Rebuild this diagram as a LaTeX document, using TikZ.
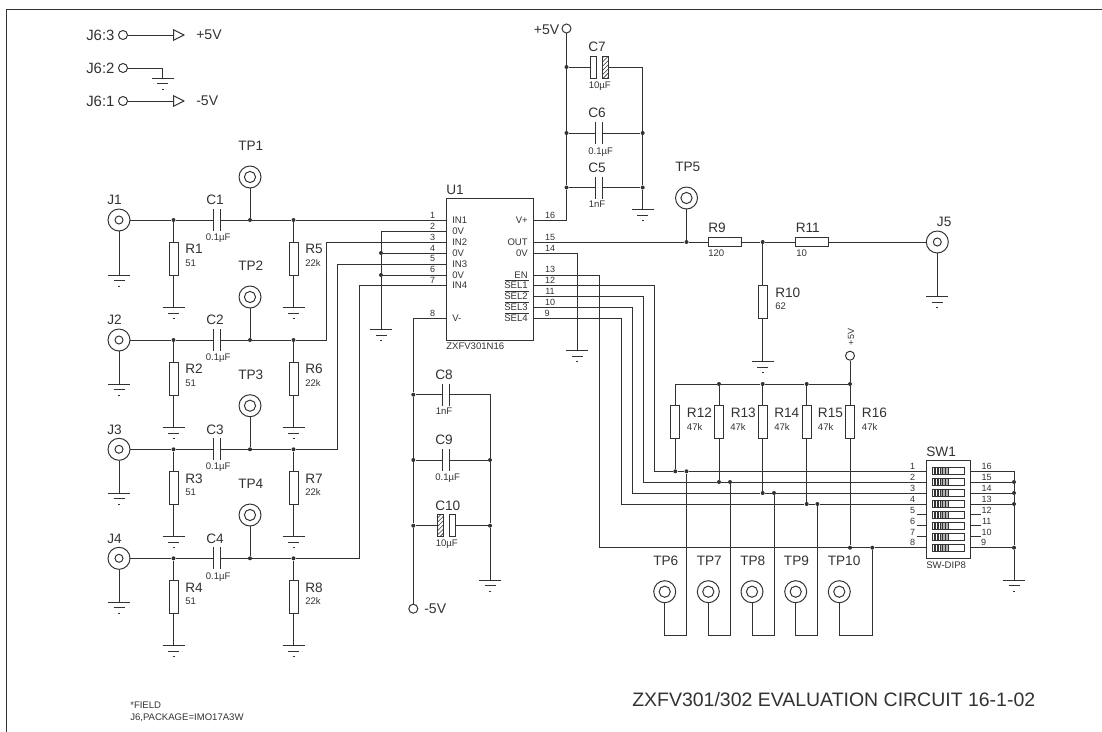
\documentclass[tikz,border=0pt]{standalone}
\usepackage{fontspec}
\setmainfont{Liberation Sans}
\usepackage{tikz}
\usetikzlibrary{arrows.meta,patterns}

\begin{document}
\begin{tikzpicture}[x=0.25mm,y=-0.25mm]

	\definecolor{wirecol}{RGB}{50,50,50}

	\tikzstyle{edge} = [draw=wirecol,line width=0.7pt,-]
	\tikzset{lab/.style = {anchor=west,inner sep=0,text depth=0pt,text=wirecol,font=\fontsize{9.7}{10}\selectfont}}
	\tikzset{val/.style = {anchor=west,inner sep=0,text depth=0pt,text=wirecol,font=\fontsize{6.8}{7}\selectfont}}
	\tikzset{pin/.style = {inner sep=0,text depth=0pt,text=wirecol,font=\fontsize{6.4}{7}\selectfont}}
	\tikzset{supply/.style = {inner sep=0,text depth=0pt,text=wirecol,font=\fontsize{10}{11}\selectfont}}
	\tikzset{jname/.style = {anchor=west,inner sep=0,text depth=0pt,text=wirecol,font=\fontsize{10.6}{11}\selectfont}}
	\tikzset{jack/.style = {shape=circle,draw=wirecol,line width=0.7pt,inner sep=0,minimum size=5.5mm,path picture={\draw[wirecol,line width=0.7pt] (path picture bounding box.center) circle (1mm);}}}
	\tikzset{probe/.style = {shape=circle,draw=wirecol,line width=0.7pt,inner sep=0,minimum size=5.5mm,path picture={\draw[wirecol,line width=0.7pt] (path picture bounding box.center) circle (1.4mm);}}}
	\tikzset{port/.style = {shape=circle,draw=wirecol,line width=0.7pt,inner sep=0,minimum size=2.25mm}}
	\tikzset{junc/.style = {shape=circle,fill=wirecol,inner sep=0,minimum size=1mm}}
	\tikzset{resv/.style = {shape=rectangle,draw=wirecol,line width=0.7pt,inner sep=0,minimum width=2.25mm,minimum height=8.25mm}}
	\tikzset{resh/.style = {shape=rectangle,draw=wirecol,line width=0.7pt,inner sep=0,minimum width=8.25mm,minimum height=2.25mm}}
	\tikzset{gnd/.pic = {
		\coordinate (-t) at (0,0);
		\draw[wirecol,line width=0.7pt] (-11,0) -- (11,0);
		\draw[wirecol,line width=0.6pt] (-5.5,5.5) -- (5.5,5.5);
		\draw[wirecol,line width=0.6pt] (-1,11) -- (1,11);
	}}
	\tikzset{capa/.pic = {
		\coordinate (-l) at (-3.6,0);
		\coordinate (-r) at (3.6,0);
		\draw[wirecol,line width=0.7pt] (-3.6,-11) -- (-3.6,11);
		\draw[wirecol,line width=0.7pt] (3.6,-11) -- (3.6,11);
	}}
	\tikzset{polr/.pic = {
		\coordinate (-l) at (-8.7,0);
		\coordinate (-r) at (8.7,0);
		\draw[wirecol,line width=0.7pt] (-8.7,-11) rectangle (-3,11);
		\draw[wirecol,line width=0.7pt,pattern=north east lines,pattern color=wirecol] (3,-11) rectangle (8.7,11);
	}}
	\tikzset{poll/.pic = {
		\coordinate (-l) at (-9,0);
		\coordinate (-r) at (9,0);
		\draw[wirecol,line width=0.7pt,pattern=north east lines,pattern color=wirecol] (-9,-11) rectangle (-3,11);
		\draw[wirecol,line width=0.7pt] (3,-11) rectangle (9,11);
	}}
	\tikzset{dip/.pic = {
		\fill[gray!60] (-8,-3.5) rectangle (0,3.5);
		\draw[wirecol,line width=0.6pt] (-16,-3.5) rectangle (16.2,3.5);
		\draw[wirecol,line width=0.5pt] (-14.5,-3.5) -- (-14.5,3.5) (-13,-3.5) -- (-13,3.5) (-11.5,-3.5) -- (-11.5,3.5) (-10,-3.5) -- (-10,3.5) (-8.5,-3.5) -- (-8.5,3.5) (-6,-3.5) -- (-6,3.5) (-3,-3.5) -- (-3,3.5) (0,-3.5) -- (0,3.5);
	}}

	\useasboundingbox (0,0) rectangle (1102,732);

	\coordinate (fa) at (1102,9);
	\coordinate (fb) at (6.5,9);
	\coordinate (fc) at (6.5,732);
	\draw[edge] (fa) -- (fb) -- (fc);

	\node[jname] (j63l) at (86,35) {J6:3};
	\node[jname] (j62l) at (86,68) {J6:2};
	\node[jname] (j61l) at (86,101) {J6:1};
	\node[port] (j63) at (123,35) {};
	\node[port] (j62) at (123,68) {};
	\node[port] (j61) at (123,101) {};
	\coordinate (f63) at (185,35);
	\coordinate (f61) at (185,101);
	\coordinate (w62) at (162.5,68);
	\pic (g62) at (162.5,78) {gnd};
	\draw[edge,-{Triangle[open,length=8.5pt,width=8.5pt]}] (j63) -- (f63);
	\draw[edge,-{Triangle[open,length=8.5pt,width=8.5pt]}] (j61) -- (f61);
	\draw[edge] (j62) -- (w62) -- (g62-t);
	\node[supply,anchor=west] (s63) at (196,35) {+5V};
	\node[supply,anchor=west] (s61) at (196,101) {-5V};

	\node[jack] (j1) at (119,220) {};
	\node[jack] (j2) at (119,340) {};
	\node[jack] (j3) at (119,449.3) {};
	\node[jack] (j4) at (119,558.3) {};
	\node[lab] (j1l) at (107,200) {J1};
	\node[lab] (j2l) at (107,320) {J2};
	\node[lab] (j3l) at (107,429.5) {J3};
	\node[lab] (j4l) at (107,538.5) {J4};
	\pic (gj1) at (119,275) {gnd};
	\pic (gj2) at (119,384) {gnd};
	\pic (gj3) at (119,493) {gnd};
	\pic (gj4) at (119,602.3) {gnd};
	\draw[edge] (j1) to (gj1-t);
	\draw[edge] (j2) to (gj2-t);
	\draw[edge] (j3) to (gj3-t);
	\draw[edge] (j4) to (gj4-t);

	\node[probe] (tp1) at (250,177) {};
	\node[probe] (tp2) at (250,297) {};
	\node[probe] (tp3) at (250,405.7) {};
	\node[probe] (tp4) at (250,515) {};
	\node[lab] (tp1l) at (238,146) {TP1};
	\node[lab] (tp2l) at (238,266) {TP2};
	\node[lab] (tp3l) at (238,375) {TP3};
	\node[lab] (tp4l) at (238,484) {TP4};

	\pic (c1) at (217,220) {capa};
	\pic (c2) at (217,340) {capa};
	\pic (c3) at (217,449.3) {capa};
	\pic (c4) at (217,558.3) {capa};
	\node[lab] (c1l) at (206,200) {C1};
	\node[lab] (c2l) at (206,320) {C2};
	\node[lab] (c3l) at (206,429.5) {C3};
	\node[lab] (c4l) at (206,538.5) {C4};
	\node[val] (c1v) at (205.5,237.5) {0.1µF};
	\node[val] (c2v) at (205.5,357.5) {0.1µF};
	\node[val] (c3v) at (205.5,466.5) {0.1µF};
	\node[val] (c4v) at (205.5,576) {0.1µF};

	\node[junc] (dl1) at (173.5,220) {};
	\node[junc] (dl2) at (173.5,340) {};
	\node[junc] (dl3) at (173.5,449.3) {};
	\node[junc] (dl4) at (173.5,558.3) {};
	\node[junc] (dm1) at (250,220) {};
	\node[junc] (dm2) at (250,340) {};
	\node[junc] (dm3) at (250,449.3) {};
	\node[junc] (dm4) at (250,558.3) {};
	\node[junc] (dr5) at (293.5,220) {};
	\node[junc] (dr6) at (293.5,340) {};
	\node[junc] (dr7) at (293.5,449.3) {};
	\node[junc] (dr8) at (293.5,558.3) {};

	\node[resv] (r1) at (173.5,258.5) {};
	\node[resv] (r2) at (173.5,378.5) {};
	\node[resv] (r3) at (173.5,487.7) {};
	\node[resv] (r4) at (173.5,596.8) {};
	\node[resv] (r5) at (293.5,258.5) {};
	\node[resv] (r6) at (293.5,378.5) {};
	\node[resv] (r7) at (293.5,487.7) {};
	\node[resv] (r8) at (293.5,596.8) {};
	\node[lab] (r1l) at (185,249) {R1};
	\node[lab] (r2l) at (185,369) {R2};
	\node[lab] (r3l) at (185,478.5) {R3};
	\node[lab] (r4l) at (185,587.5) {R4};
	\node[lab] (r5l) at (305,249) {R5};
	\node[lab] (r6l) at (305,369) {R6};
	\node[lab] (r7l) at (305,478.5) {R7};
	\node[lab] (r8l) at (305,587.5) {R8};
	\node[val] (r1v) at (185,263) {51};
	\node[val] (r2v) at (185,383) {51};
	\node[val] (r3v) at (185,492.5) {51};
	\node[val] (r4v) at (185,601.5) {51};
	\node[val] (r5v) at (305,263) {22k};
	\node[val] (r6v) at (305,383) {22k};
	\node[val] (r7v) at (305,492.5) {22k};
	\node[val] (r8v) at (305,601.5) {22k};
	\pic (g1) at (173.5,307.5) {gnd};
	\pic (g2) at (173.5,427.7) {gnd};
	\pic (g3) at (173.5,536.7) {gnd};
	\pic (g4) at (173.5,645.7) {gnd};
	\pic (g5) at (293.5,307.5) {gnd};
	\pic (g6) at (293.5,427.7) {gnd};
	\pic (g7) at (293.5,536.7) {gnd};
	\pic (g8) at (293.5,645.7) {gnd};

	\draw[edge] (dl1) -- (r1) -- (g1-t);
	\draw[edge] (dl2) -- (r2) -- (g2-t);
	\draw[edge] (dl3) -- (r3) -- (g3-t);
	\draw[edge] (dl4) -- (r4) -- (g4-t);
	\draw[edge] (dr5) -- (r5) -- (g5-t);
	\draw[edge] (dr6) -- (r6) -- (g6-t);
	\draw[edge] (dr7) -- (r7) -- (g7-t);
	\draw[edge] (dr8) -- (r8) -- (g8-t);
	\draw[edge] (tp1) to (dm1);
	\draw[edge] (tp2) to (dm2);
	\draw[edge] (tp3) to (dm3);
	\draw[edge] (tp4) to (dm4);

	\node[shape=rectangle,draw=wirecol,line width=0.7pt,inner sep=0,minimum width=21.75mm,minimum height=35.5mm] (u1) at (490,269) {};
	\node[lab] (u1l) at (446,189.5) {U1};
	\node[val] (u1v) at (446,346.5) {ZXFV301N16};
	\coordinate (u1p1) at (446.5,220);
	\coordinate (u1p2) at (446.5,231);
	\coordinate (u1p3) at (446.5,242);
	\coordinate (u1p4) at (446.5,253);
	\coordinate (u1p5) at (446.5,264);
	\coordinate (u1p6) at (446.5,275);
	\coordinate (u1p7) at (446.5,285.5);
	\coordinate (u1p8) at (446.5,318.5);
	\coordinate (u1p9) at (533.5,318.5);
	\coordinate (u1p10) at (533.5,307.5);
	\coordinate (u1p11) at (533.5,296.5);
	\coordinate (u1p12) at (533.5,285.5);
	\coordinate (u1p13) at (533.5,275);
	\coordinate (u1p14) at (533.5,253);
	\coordinate (u1p15) at (533.5,242);
	\coordinate (u1p16) at (533.5,220);
	\node[val] (in1) at (452,220) {IN1};
	\node[val] (in2) at (452,231) {0V};
	\node[val] (in3) at (452,242) {IN2};
	\node[val] (in4) at (452,253) {0V};
	\node[val] (in5) at (452,264) {IN3};
	\node[val] (in6) at (452,275) {0V};
	\node[val] (in7) at (452,285.5) {IN4};
	\node[val] (in8) at (452,318.5) {V-};
	\node[val,anchor=east] (in9) at (528,318.5) {SEL4};
	\node[val,anchor=east] (in10) at (528,307.5) {SEL3};
	\node[val,anchor=east] (in11) at (528,296.5) {SEL2};
	\node[val,anchor=east] (in12) at (528,285.5) {SEL1};
	\node[val,anchor=east] (in13) at (528,275) {EN};
	\node[val,anchor=east] (in14) at (528,253) {0V};
	\node[val,anchor=east] (in15) at (528,242) {OUT};
	\node[val,anchor=east] (in16) at (528,220) {V+};
	\coordinate (ov9a) at (504.5,313);
	\coordinate (ov9b) at (528.5,313);
	\coordinate (ov10a) at (504.5,302);
	\coordinate (ov10b) at (528.5,302);
	\coordinate (ov11a) at (504.5,291);
	\coordinate (ov11b) at (528.5,291);
	\coordinate (ov12a) at (504.5,280.5);
	\coordinate (ov12b) at (528.5,280.5);
	\draw[edge,line width=0.6pt] (ov9a) -- (ov9b);
	\draw[edge,line width=0.6pt] (ov10a) -- (ov10b);
	\draw[edge,line width=0.6pt] (ov11a) -- (ov11b);
	\draw[edge,line width=0.6pt] (ov12a) -- (ov12b);
	\node[pin] (n1) at (432.5,215) {1};
	\node[pin] (n2) at (432.5,226) {2};
	\node[pin] (n3) at (432.5,237) {3};
	\node[pin] (n4) at (432.5,248) {4};
	\node[pin] (n5) at (432.5,258.5) {5};
	\node[pin] (n6) at (432.5,269.5) {6};
	\node[pin] (n7) at (432.5,280.5) {7};
	\node[pin] (n8) at (432.5,313.5) {8};
	\node[pin] (n9) at (547,313.5) {9};
	\node[pin] (n10) at (550,302.5) {10};
	\node[pin] (n11) at (550,291.5) {11};
	\node[pin] (n12) at (550,280.5) {12};
	\node[pin] (n13) at (550,269.5) {13};
	\node[pin] (n14) at (550,248) {14};
	\node[pin] (n15) at (550,237) {15};
	\node[pin] (n16) at (550,215) {16};

	\coordinate (w2) at (326,242);
	\coordinate (w3) at (337.5,264);
	\coordinate (w4) at (359,285.5);
	\draw[edge] (j1) -- (dl1) -- (c1-l);
	\draw[edge] (j2) -- (dl2) -- (c2-l);
	\draw[edge] (j3) -- (dl3) -- (c3-l);
	\draw[edge] (j4) -- (dl4) -- (c4-l);
	\draw[edge] (c1-r) -- (dm1) -- (dr5) -- (u1p1);
	\draw[edge] (c2-r) -- (dm2) -- (dr6) -| (w2) -- (u1p3);
	\draw[edge] (c3-r) -- (dm3) -- (dr7) -| (w3) -- (u1p5);
	\draw[edge] (c4-r) -- (dm4) -- (dr8) -| (w4) -- (u1p7);

	\coordinate (bus) at (381,231);
	\node[junc] (dp4) at (381,253) {};
	\node[junc] (dp6) at (381,275) {};
	\pic (gu) at (381,329.5) {gnd};
	\draw[edge] (u1p2) -- (bus) -- (dp4) -- (dp6) -- (gu-t);
	\draw[edge] (dp4) to (u1p4);
	\draw[edge] (dp6) to (u1p6);

	\node[port] (pos) at (566.5,28.5) {};
	\node[supply,anchor=east] (posl) at (559.5,30) {+5V};
	\node[junc] (dc7) at (566.5,67) {};
	\node[junc] (dc6) at (566.5,133) {};
	\node[junc] (dc5) at (566.5,187.5) {};
	\node[junc] (de6) at (642.7,133) {};
	\node[junc] (de5) at (642.7,187.5) {};
	\pic (c7) at (599.3,67) {polr};
	\pic (c6) at (599.3,133) {capa};
	\pic (c5) at (599.3,187.5) {capa};
	\node[lab] (c7l) at (588,47) {C7};
	\node[lab] (c6l) at (588,113) {C6};
	\node[lab] (c5l) at (588,168) {C5};
	\node[val] (c7v) at (588.5,85) {10µF};
	\node[val] (c6v) at (588,151) {0.1µF};
	\node[val] (c5v) at (588.5,204.7) {1nF};
	\pic (gc) at (642.7,209.5) {gnd};
	\draw[edge] (u1p16) -| (dc5) -- (dc6) -- (dc7) -- (pos);
	\draw[edge] (dc7) to (c7-l);
	\draw[edge] (dc6) to (c6-l);
	\draw[edge] (dc5) to (c5-l);
	\draw[edge] (c7-r) -| (de6) -- (de5) -- (gc-t);
	\draw[edge] (c6-r) to (de6);
	\draw[edge] (c5-r) to (de5);

	\coordinate (wneg) at (413.3,318.5);
	\node[port] (neg) at (413.3,608.7) {};
	\node[supply,anchor=west] (negl) at (424,608.7) {-5V};
	\node[junc] (dc8) at (413.3,394.7) {};
	\node[junc] (dc9) at (413.3,460) {};
	\node[junc] (dc10) at (413.3,525.7) {};
	\coordinate (te8) at (490,394.7);
	\node[junc] (de9) at (490,460) {};
	\node[junc] (de10) at (490,525.7) {};
	\pic (c8) at (446.3,394.7) {capa};
	\pic (c9) at (446.3,460) {capa};
	\pic (c10) at (446.3,525.7) {poll};
	\node[lab] (c8l) at (435,374.7) {C8};
	\node[lab] (c9l) at (435,440) {C9};
	\node[lab] (c10l) at (435,505.7) {C10};
	\node[val] (c8v) at (435.5,411.7) {1nF};
	\node[val] (c9v) at (435,477.3) {0.1µF};
	\node[val] (c10v) at (435.5,542.7) {10µF};
	\pic (gn) at (490,580) {gnd};
	\draw[edge] (u1p8) -- (wneg) -- (dc8) -- (dc9) -- (dc10) -- (neg);
	\draw[edge] (dc8) to (c8-l);
	\draw[edge] (dc9) to (c9-l);
	\draw[edge] (dc10) to (c10-l);
	\draw[edge] (c8-r) -- (te8) -- (de9) -- (de10) -- (gn-t);
	\draw[edge] (c9-r) to (de9);
	\draw[edge] (c10-r) to (de10);

	\pic (g14) at (577.3,350.7) {gnd};
	\draw[edge] (u1p14) -| (g14-t);

	\node[probe] (tp5) at (686.5,198) {};
	\node[lab] (tp5l) at (675,167) {TP5};
	\node[junc] (dtp5) at (686.5,242) {};
	\node[resh] (r9) at (724.7,242) {};
	\node[junc] (dr10) at (762.7,242) {};
	\node[resh] (r11) at (812,242) {};
	\node[jack] (j5) at (937.3,242) {};
	\node[lab] (j5l) at (936.7,222) {J5};
	\node[lab] (r9l) at (708,228) {R9};
	\node[val] (r9v) at (708,253) {120};
	\node[lab] (r11l) at (795.5,228) {R11};
	\node[val] (r11v) at (796,253) {10};
	\node[resv] (r10) at (762.7,302) {};
	\node[lab] (r10l) at (775,293) {R10};
	\node[val] (r10v) at (775,306.5) {62};
	\pic (gr10) at (762.7,361.7) {gnd};
	\pic (gj5) at (937.3,296.7) {gnd};
	\draw[edge] (u1p15) -- (dtp5) -- (r9) -- (dr10) -- (r11) -- (j5);
	\draw[edge] (tp5) to (dtp5);
	\draw[edge] (dr10) -- (r10) -- (gr10-t);
	\draw[edge] (j5) to (gj5-t);

	\coordinate (t12) at (675.3,384);
	\node[junc] (dn13) at (719,384) {};
	\node[junc] (dn14) at (762.7,384) {};
	\node[junc] (dn15) at (806.7,384) {};
	\node[junc] (dn16) at (850,384) {};
	\node[port] (pos2) at (850,355.7) {};
	\node[pin,rotate=90] (pos2l) at (851,337) {+5V};
	\node[resv] (r12) at (675.3,422) {};
	\node[resv] (r13) at (719,422) {};
	\node[resv] (r14) at (762.7,422) {};
	\node[resv] (r15) at (806.7,422) {};
	\node[resv] (r16) at (850,422) {};
	\node[lab] (r12l) at (686.7,413) {R12};
	\node[lab] (r13l) at (730.5,413) {R13};
	\node[lab] (r14l) at (774,413) {R14};
	\node[lab] (r15l) at (817.7,413) {R15};
	\node[lab] (r16l) at (861.7,413) {R16};
	\node[val] (r12v) at (686.7,426.7) {47k};
	\node[val] (r13v) at (730,426.7) {47k};
	\node[val] (r14v) at (774,426.7) {47k};
	\node[val] (r15v) at (817.7,426.7) {47k};
	\node[val] (r16v) at (861.7,426.7) {47k};
	\node[junc] (dr12) at (675.3,471.3) {};
	\node[junc] (dr13) at (719,482) {};
	\node[junc] (dr14) at (762.7,493) {};
	\node[junc] (dr15) at (806.7,504) {};
	\node[junc] (dr16) at (850,547.7) {};
	\node[junc] (dt6) at (686.5,471.3) {};
	\node[junc] (dt7) at (730,482) {};
	\node[junc] (dt8) at (774,493) {};
	\node[junc] (dt9) at (817.4,504) {};
	\node[junc] (dt10) at (872.3,547.7) {};
	\draw[edge] (r12) -- (t12) -- (dn13) -- (dn14) -- (dn15) -- (dn16) -- (pos2);
	\draw[edge] (dn13) to (r13);
	\draw[edge] (dn14) to (r14);
	\draw[edge] (dn15) to (r15);
	\draw[edge] (dn16) to (r16);
	\draw[edge] (r12) to (dr12);
	\draw[edge] (r13) to (dr13);
	\draw[edge] (r14) to (dr14);
	\draw[edge] (r15) to (dr15);
	\draw[edge] (r16) to (dr16);

	\node[probe] (tp6) at (664.7,591.7) {};
	\node[probe] (tp7) at (708.3,591.7) {};
	\node[probe] (tp8) at (752,591.7) {};
	\node[probe] (tp9) at (795.7,591.7) {};
	\node[probe] (tp10) at (839.3,591.7) {};
	\node[lab] (tp6l) at (653,560.7) {TP6};
	\node[lab] (tp7l) at (696.5,560.7) {TP7};
	\node[lab] (tp8l) at (740,560.7) {TP8};
	\node[lab] (tp9l) at (783.7,560.7) {TP9};
	\node[lab] (tp10l) at (827.5,560.7) {TP10};
	\coordinate (b6) at (664.7,635);
	\coordinate (b7) at (708.3,635);
	\coordinate (b8) at (752,635);
	\coordinate (b9) at (795.7,635);
	\coordinate (b10) at (839.3,635);
	\draw[edge] (dt6) |- (b6) -- (tp6);
	\draw[edge] (dt7) |- (b7) -- (tp7);
	\draw[edge] (dt8) |- (b8) -- (tp8);
	\draw[edge] (dt9) |- (b9) -- (tp9);
	\draw[edge] (dt10) |- (b10) -- (tp10);

	\node[shape=rectangle,draw=wirecol,line width=0.7pt,inner sep=0,minimum width=11mm,minimum height=24.5mm] (sw1) at (948.7,509) {};
	\node[lab] (sw1l) at (926,451.7) {SW1};
	\node[val] (sw1v) at (926,564.7) {SW-DIP8};
	\pic (s1) at (948.7,471.3) {dip};
	\pic (s2) at (948.7,482) {dip};
	\pic (s3) at (948.7,493) {dip};
	\pic (s4) at (948.7,504) {dip};
	\pic (s5) at (948.7,514.7) {dip};
	\pic (s6) at (948.7,525.7) {dip};
	\pic (s7) at (948.7,536.7) {dip};
	\pic (s8) at (948.7,547.7) {dip};
	\coordinate (swa1) at (926.7,471.3);
	\coordinate (swa2) at (926.7,482);
	\coordinate (swa3) at (926.7,493);
	\coordinate (swa4) at (926.7,504);
	\coordinate (swa5) at (926.7,514.7);
	\coordinate (swa6) at (926.7,525.7);
	\coordinate (swa7) at (926.7,536.7);
	\coordinate (swa8) at (926.7,547.7);
	\coordinate (swb16) at (970.7,471.3);
	\coordinate (swb15) at (970.7,482);
	\coordinate (swb14) at (970.7,493);
	\coordinate (swb13) at (970.7,504);
	\coordinate (swb12) at (970.7,514.7);
	\coordinate (swb11) at (970.7,525.7);
	\coordinate (swb10) at (970.7,536.7);
	\coordinate (swb9) at (970.7,547.7);
	\coordinate (sa5) at (916.7,514.7);
	\coordinate (sa6) at (916.7,525.7);
	\coordinate (sa7) at (916.7,536.7);
	\coordinate (sb12) at (980.7,514.7);
	\coordinate (sb11) at (980.7,525.7);
	\coordinate (sb10) at (980.7,536.7);
	\draw[edge] (sa5) to (swa5);
	\draw[edge] (sa6) to (swa6);
	\draw[edge] (sa7) to (swa7);
	\draw[edge] (swb12) to (sb12);
	\draw[edge] (swb11) to (sb11);
	\draw[edge] (swb10) to (sb10);
	\node[pin] (m1) at (912.7,466) {1};
	\node[pin] (m2) at (912.7,477) {2};
	\node[pin] (m3) at (912.7,488) {3};
	\node[pin] (m4) at (912.7,499) {4};
	\node[pin] (m5) at (912.7,510) {5};
	\node[pin] (m6) at (912.7,521) {6};
	\node[pin] (m7) at (912.7,532) {7};
	\node[pin] (m8) at (912.7,542.7) {8};
	\node[pin] (m16) at (986.7,466) {16};
	\node[pin] (m15) at (986.7,477) {15};
	\node[pin] (m14) at (986.7,488) {14};
	\node[pin] (m13) at (986.7,499) {13};
	\node[pin] (m12) at (986.7,510) {12};
	\node[pin] (m11) at (986.7,521) {11};
	\node[pin] (m10) at (986.7,532) {10};
	\node[pin] (m9) at (983.5,542.5) {9};

	\coordinate (w12) at (654,471.3);
	\coordinate (w11) at (643,482);
	\coordinate (w10) at (632,493);
	\coordinate (w9) at (621,504);
	\coordinate (w13) at (599.3,547.7);
	\draw[edge] (u1p12) -| (w12) -- (dr12) -- (dt6) -- (swa1);
	\draw[edge] (u1p11) -| (w11) -- (dr13) -- (dt7) -- (swa2);
	\draw[edge] (u1p10) -| (w10) -- (dr14) -- (dt8) -- (swa3);
	\draw[edge] (u1p9) -| (w9) -- (dr15) -- (dt9) -- (swa4);
	\draw[edge] (u1p13) -| (w13) -- (dr16) -- (dt10) -- (swa8);

	\coordinate (q16) at (1014,471.3);
	\node[junc] (dq15) at (1014,482) {};
	\node[junc] (dq14) at (1014,493) {};
	\node[junc] (dq13) at (1014,504) {};
	\node[junc] (dq9) at (1014,547.7) {};
	\pic (gsw) at (1014,580) {gnd};
	\draw[edge] (swb16) -- (q16) -- (dq15) -- (dq14) -- (dq13) -- (dq9) -- (gsw-t);
	\draw[edge] (swb15) to (dq15);
	\draw[edge] (swb14) to (dq14);
	\draw[edge] (swb13) to (dq13);
	\draw[edge] (swb9) to (dq9);

	\node[val] (fld) at (130,705.7) {*FIELD};
	\node[val] (pkg) at (130,716.7) {J6,PACKAGE=IMO17A3W};
	\node[inner sep=0,anchor=west,text=wirecol,font=\fontsize{13.85}{14}\selectfont] (title) at (632,700) {ZXFV301/302 EVALUATION CIRCUIT 16-1-02};
\end{tikzpicture}
\end{document}
